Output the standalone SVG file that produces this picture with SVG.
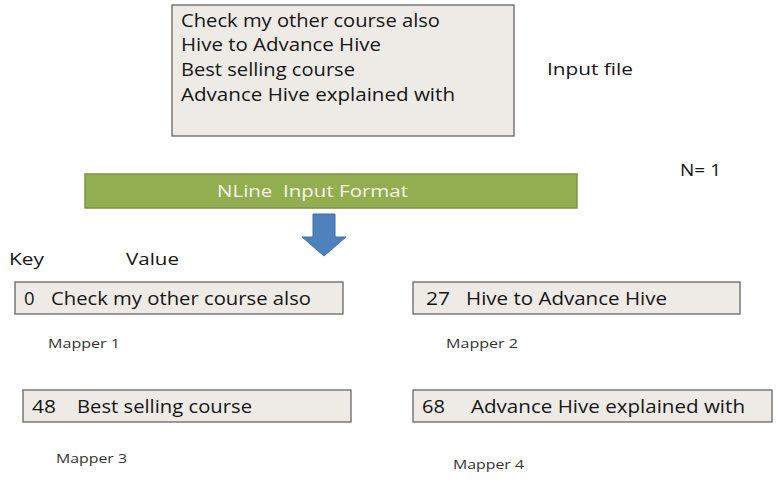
<svg xmlns="http://www.w3.org/2000/svg" width="779" height="490" viewBox="0 0 779 490">
<defs>
<style>
.t{font-family:"Open Sans","Liberation Sans",sans-serif;fill:#161616;}
.big{font-size:18.5px;}
.mid{font-size:17px;}
.sm{font-size:13px;fill:#333;}
.box{fill:#eeebe6;stroke:#5a5a5a;stroke-width:1.2;}
</style>
</defs>
<rect width="779" height="490" fill="#ffffff"/>
<g id="input-file">
<rect class="box" x="172" y="5" width="342" height="131"/>
<text class="t big" x="181" y="27" textLength="259" lengthAdjust="spacingAndGlyphs">Check my other course also</text>
<text class="t big" x="181" y="51" textLength="200" lengthAdjust="spacingAndGlyphs">Hive to Advance Hive</text>
<text class="t big" x="181" y="76" textLength="174" lengthAdjust="spacingAndGlyphs">Best selling course</text>
<text class="t big" x="181" y="101" textLength="274" lengthAdjust="spacingAndGlyphs">Advance Hive explained with</text>
</g>
<g id="input-file-label">
<text class="t mid" x="547" y="75" textLength="86" lengthAdjust="spacingAndGlyphs">Input file</text>
</g>
<g id="n-label">
<text class="t mid" x="680" y="176" textLength="41" lengthAdjust="spacingAndGlyphs">N= 1</text>
</g>
<g id="nline-format">
<rect x="85" y="174" width="492" height="34" fill="#93ae50" stroke="#7b9440" stroke-width="1.5"/>
<text class="t mid" x="217" y="197" style="fill:#f4f6ea;white-space:pre" xml:space="preserve" textLength="191" lengthAdjust="spacingAndGlyphs">NLine  Input Format</text>
</g>
<g id="connectors">
<path d="M313,214 H335 V237 H346 L324,256 L302,237 H313 Z" fill="#4f81bd" stroke="#3d6ea8" stroke-width="1"/>
</g>
<g id="headers">
<text class="t mid" x="9" y="265" textLength="35" lengthAdjust="spacingAndGlyphs">Key</text>
<text class="t mid" x="126" y="265" textLength="53" lengthAdjust="spacingAndGlyphs">Value</text>
</g>
<g id="mapper1">
<rect class="box" x="15" y="282" width="328" height="32"/>
<text class="t big" x="24" y="305">0</text>
<text class="t big" x="51" y="305" textLength="260" lengthAdjust="spacingAndGlyphs">Check my other course also</text>
<text class="t sm" x="48" y="348" textLength="72" lengthAdjust="spacingAndGlyphs">Mapper 1</text>
</g>
<g id="mapper2">
<rect class="box" x="413" y="282" width="327" height="32"/>
<text class="t big" x="426" y="305" textLength="24" lengthAdjust="spacingAndGlyphs">27</text>
<text class="t big" x="466" y="305" textLength="201" lengthAdjust="spacingAndGlyphs">Hive to Advance Hive</text>
<text class="t sm" x="446" y="348" textLength="72" lengthAdjust="spacingAndGlyphs">Mapper 2</text>
</g>
<g id="mapper3">
<rect class="box" x="23" y="390" width="328" height="32"/>
<text class="t big" x="32" y="413" textLength="24" lengthAdjust="spacingAndGlyphs">48</text>
<text class="t big" x="77" y="413" textLength="175" lengthAdjust="spacingAndGlyphs">Best selling course</text>
<text class="t sm" x="56" y="463" textLength="71" lengthAdjust="spacingAndGlyphs">Mapper 3</text>
</g>
<g id="mapper4">
<rect class="box" x="413" y="390" width="359" height="32"/>
<text class="t big" x="422" y="413" textLength="23" lengthAdjust="spacingAndGlyphs">68</text>
<text class="t big" x="471" y="413" textLength="274" lengthAdjust="spacingAndGlyphs">Advance Hive explained with</text>
<text class="t sm" x="453" y="469" textLength="71" lengthAdjust="spacingAndGlyphs">Mapper 4</text>
</g>
</svg>
